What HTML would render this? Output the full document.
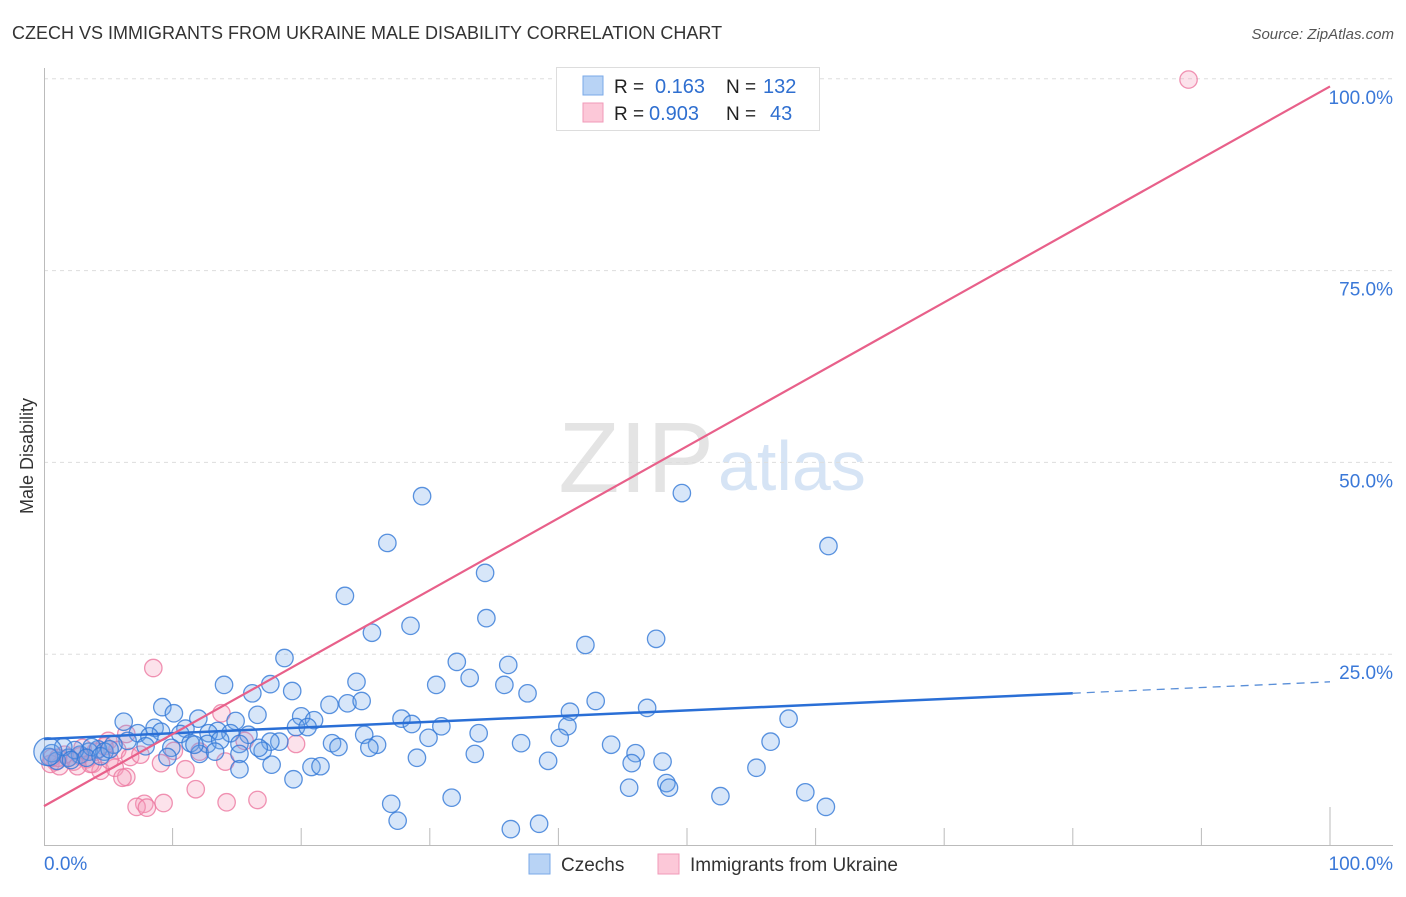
<!DOCTYPE html>
<html><head><meta charset="utf-8"><style>
body{margin:0;background:#fff;font-family:"Liberation Sans",sans-serif;}
svg text{font-family:"Liberation Sans",sans-serif;}
</style></head><body>
<svg id="chart" width="1406" height="892">
<text x="12" y="39" font-size="18" fill="#333">CZECH VS IMMIGRANTS FROM UKRAINE MALE DISABILITY CORRELATION CHART</text>
<text x="1394" y="39" font-size="15" fill="#555" font-style="italic" text-anchor="end">Source: ZipAtlas.com</text>
<text transform="translate(33,456) rotate(-90)" font-size="18" fill="#333" text-anchor="middle">Male Disability</text>
<text x="714" y="492" font-size="100" fill="#e4e4e4" text-anchor="end" font-family="Liberation Serif">ZIP</text>
<text x="718" y="490" font-size="70" fill="#d6e4f5">atlas</text>
<g id="grid"></g><g id="axes"></g><g id="pts"></g><g id="lines"></g>
<g>
<rect x="556.5" y="67.5" width="263" height="63" fill="#fff" stroke="#ddd"/>
<rect x="583" y="76" width="20" height="19" fill="#b8d3f5" stroke="#7aaae8"/>
<rect x="583" y="103" width="20" height="19" fill="#fcc8d8" stroke="#f09ab8"/>
<text x="614" y="93" font-size="19" fill="#222">R = </text><text x="655" y="93" font-size="20" fill="#2f6fd0">0.163</text>
<text x="726" y="93" font-size="19" fill="#222">N = </text><text x="763" y="93" font-size="20" fill="#2f6fd0">132</text>
<text x="614" y="120" font-size="19" fill="#222">R = </text><text x="649" y="120" font-size="20" fill="#2f6fd0">0.903</text>
<text x="726" y="120" font-size="19" fill="#222">N = </text><text x="770" y="120" font-size="20" fill="#2f6fd0">43</text>
</g>
<g>
<rect x="529" y="854" width="21" height="20" fill="#b8d3f5" stroke="#7aaae8"/>
<text x="561" y="871" font-size="19" fill="#333">Czechs</text>
<rect x="658" y="854" width="21" height="20" fill="#fcc8d8" stroke="#f09ab8"/>
<text x="690" y="871" font-size="19" fill="#333">Immigrants from Ukraine</text>
</g>
</svg>
<script>
const yTicks=[25,50,75,100];
const yTickLabels=["25.0%","50.0%","75.0%","100.0%"];
const xTicks=[0,10,20,30,40,50,60,70,80,90,100];
const blueX=[29.4,49.6,61.0,26.7,34.3,23.4,34.4,28.5,25.5,47.6,42.1,18.7,32.1,36.1,24.3,17.6,14.0,30.5,33.1,35.8,19.3,37.6,16.2,9.2,22.2,23.6,24.7,42.9,46.9,10.1,16.6,12.0,20.0,21.0,40.9,27.8,6.2,14.9,19.6,20.5,57.9,8.6,11.0,13.5,30.9,40.7,33.8,28.6,7.3,9.1,10.6,15.9,8.2,12.8,29.9,24.9,22.4,25.9,22.9,25.3,18.3,17.6,6.5,5.4,14.5,11.4,12.7,13.7,15.2,7.9,9.9,12.1,13.3,15.2,17.0,11.7,16.7,40.1,37.1,44.1,56.5,46.0,33.5,29.0,39.2,48.1,45.7,55.4,17.7,20.8,21.5,15.2,9.6,19.4,48.4,48.6,45.5,52.6,59.2,31.7,27.0,60.8,27.5,36.3,38.5,4.2,3.5,2.8,1.9,1.0,0.6,2.4,3.7,4.7,1.5,2.1,3.3,4.4,5.1,0.4,0.3];
const blueY=[45.6,46.0,39.1,39.5,35.6,32.6,29.7,28.7,27.8,27.0,26.2,24.5,24.0,23.6,21.4,21.1,21.0,21.0,21.9,21.0,20.2,19.9,19.9,18.1,18.4,18.6,18.9,18.9,18.0,17.3,17.1,16.6,16.9,16.4,17.5,16.6,16.2,16.3,15.5,15.5,16.6,15.4,15.3,15.0,15.6,15.6,14.7,15.9,14.7,14.9,14.6,14.5,14.3,14.7,14.1,14.5,13.4,13.2,12.9,12.8,13.6,13.6,13.7,13.2,14.7,13.4,13.3,13.8,13.3,13.0,12.8,12.0,12.3,12.0,12.4,13.2,12.8,14.1,13.4,13.2,13.6,12.1,12.0,11.5,11.1,11.0,10.8,10.2,10.6,10.3,10.4,10.0,11.6,8.7,8.2,7.6,7.6,6.5,7.0,6.3,5.5,5.1,3.3,2.2,2.9,12.6,12.3,11.9,11.5,11.1,12.1,12.5,12.9,12.3,12.9,11.2,11.5,11.7,12.6,11.6,12.3];
const pinkX=[89.0,8.5,13.8,6.4,5.0,15.6,19.6,10.1,12.1,14.1,9.1,3.8,11.0,4.4,5.5,6.4,6.1,11.8,7.8,9.3,7.2,8.0,14.2,16.6,2.8,1.9,0.9,0.5,1.2,3.3,2.3,4.0,5.7,4.7,3.0,1.6,6.7,7.5,5.1,3.6,0.6,2.6,1.1];
const pinkY=[99.9,23.2,17.3,14.6,13.7,13.7,13.3,12.4,12.3,11.0,10.8,10.7,10.0,9.8,10.2,9.0,8.9,7.4,5.5,5.6,5.1,5.0,5.7,6.0,11.7,11.5,11.0,10.7,10.4,11.3,11.0,12.3,12.5,13.0,12.8,11.9,11.6,11.9,11.2,10.7,11.5,10.4,11.5];
const blueLine=[13.95,21.4]; const blueSolidEnd=80;
const pinkLine=[5.2,99.0];
const NS="http://www.w3.org/2000/svg";
const sx=v=>44+v*12.86, sy=v=>846-v*7.672;
function mk(t,a,p){const e=document.createElementNS(NS,t);for(const k in a)e.setAttribute(k,a[k]);p.appendChild(e);return e;}
const grid=document.getElementById('grid'),axes=document.getElementById('axes'),pts=document.getElementById('pts'),lines=document.getElementById('lines');
yTicks.forEach((v,i)=>{
 const l=mk('line',{x1:44,x2:1393,y1:sy(v),y2:sy(v),stroke:'#ddd','stroke-dasharray':'4,4'},grid);
 
 
 const t=mk('text',{x:1393,y:sy(v)+25,'font-size':19,fill:'#3a78d8','text-anchor':'end'},grid);t.textContent=yTickLabels[i];
 
 
});
mk('line',{x1:44.5,x2:44.5,y1:68,y2:846,stroke:'#bbb'},axes);
mk('line',{x1:44,x2:1393,y1:845.5,y2:845.5,stroke:'#bbb'},axes);
xTicks.forEach(v=>{if(v===0)return;const l=mk('line',{x1:sx(v),x2:sx(v),y1:v===100?807:828,y2:846,stroke:'#bbb'},axes);
 
 });
let t0=mk('text',{x:44,y:870,'font-size':19,fill:'#3a78d8'},axes);t0.textContent='0.0%';


let t1=mk('text',{x:1393,y:870,'font-size':19,fill:'#3a78d8','text-anchor':'end'},axes);t1.textContent='100.0%';


pinkX.forEach((x,i)=>{const c=mk('circle',{cx:sx(x),cy:sy(pinkY[i]),r:8.7,fill:'rgba(244,160,188,0.3)',stroke:'rgba(236,120,160,0.8)','stroke-width':1.3},pts);
 
 });
blueX.forEach((x,i)=>{const c=mk('circle',{cx:sx(x),cy:sy(blueY[i]),r:i===blueX.length-1?14:8.7,fill:'rgba(110,165,235,0.28)',stroke:'rgba(50,120,215,0.8)','stroke-width':1.3},pts);
 
 });
const by=v=>blueLine[0]+(blueLine[1]-blueLine[0])*v/100;
let bl=mk('line',{x1:sx(0),y1:sy(by(0)),x2:sx(blueSolidEnd),y2:sy(by(blueSolidEnd)),stroke:'#2a6fd6','stroke-width':2.5},lines);


let bd=mk('line',{x1:sx(blueSolidEnd),y1:sy(by(blueSolidEnd)),x2:sx(100),y2:sy(by(100)),stroke:'#5a8fd8','stroke-width':1.3,'stroke-dasharray':'8,6'},lines);


let pl=mk('line',{x1:sx(0),y1:sy(pinkLine[0]),x2:sx(100),y2:sy(pinkLine[1]),stroke:'#e8608a','stroke-width':2.2},lines);


</script>
</body></html>
